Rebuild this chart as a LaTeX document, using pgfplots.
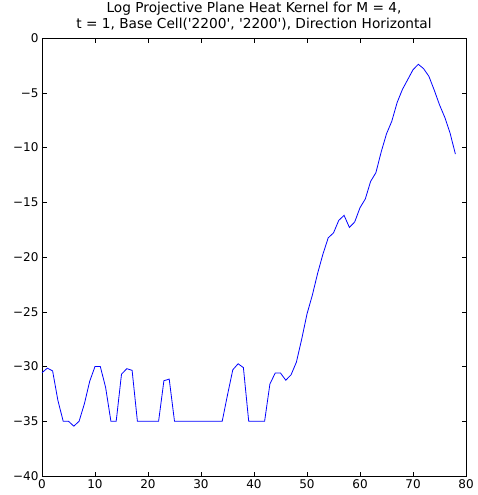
\documentclass[border=0pt]{standalone}
\usepackage{fontspec}
\setmainfont{DejaVu Sans}
\usepackage{pgfplots}
\pgfplotsset{compat=1.18}

\begin{document}
\begin{tikzpicture}
\begin{axis}[
  scale only axis,
  width=424pt, height=438pt,
  xmin=0, xmax=80, ymin=-40, ymax=0,
  xtick={0,10,...,80},
  ytick={-40,-35,...,0},
  yticklabels={−40,−35,−30,−25,−20,−15,−10,−5,0},
  tick align=inside,
  major tick length=4.5pt,
  tick style={black, line width=0.5pt},
  axis line style={line width=0.8pt},
  ticklabel style={font=\fontsize{12}{14}\selectfont},
  /pgf/number format/assume math mode=true,
  title={Log Projective Plane Heat Kernel for M = 4,\\t = 1, Base Cell(\textquotesingle 2200\textquotesingle, \textquotesingle 2200\textquotesingle), Direction Horizontal},
  title style={align=center, font=\fontsize{13.7}{16.5}\selectfont, yshift=-2pt},
]
\addplot[blue, line width=0.8pt, mark=none] coordinates {
(0,-30.57) (1,-30.15) (2,-30.4) (3,-33.1) (4,-35) (5,-35) (6,-35.45) (7,-35)
(8,-33.4) (9,-31.35) (10,-30.0) (11,-30.0) (12,-31.9) (13,-35) (14,-35)
(15,-30.7) (16,-30.2) (17,-30.35) (18,-35) (19,-35) (20,-35) (21,-35) (22,-35)
(23,-31.3) (24,-31.15) (25,-35) (26,-35) (27,-35) (28,-35) (29,-35) (30,-35)
(31,-35) (32,-35) (33,-35) (34,-35) (35,-32.6) (36,-30.3) (37,-29.75) (38,-30.1)
(39,-35) (40,-35) (41,-35) (42,-35) (43,-31.6) (44,-30.6) (45,-30.6) (46,-31.25)
(47,-30.75) (48,-29.6) (49,-27.5) (50,-25.2) (51,-23.5) (52,-21.5) (53,-19.75)
(54,-18.25) (55,-17.8) (56,-16.65) (57,-16.2) (58,-17.3) (59,-16.8) (60,-15.5)
(61,-14.7) (62,-13.1) (63,-12.3) (64,-10.4) (65,-8.75) (66,-7.6) (67,-5.9)
(68,-4.7) (69,-3.8) (70,-2.9) (71,-2.4) (72,-2.8) (73,-3.5) (74,-4.75)
(75,-6.1) (76,-7.25) (77,-8.7) (78,-10.6)
};
\end{axis}
\pgfresetboundingbox
\useasboundingbox ([shift={(-42pt,-19pt)}]current axis.south west) rectangle ([shift={(11pt,38pt)}]current axis.north east);
\end{tikzpicture}
\end{document}
